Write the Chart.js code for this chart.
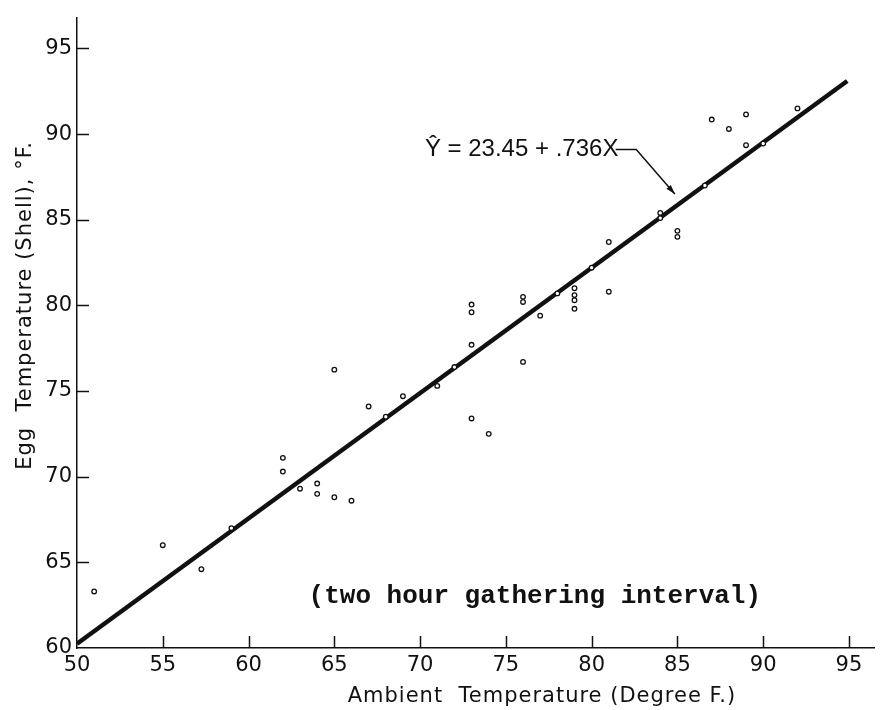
<!DOCTYPE html>
<html>
<head>
<meta charset="utf-8">
<title>Egg temperature vs ambient temperature</title>
<script src="https://cdn.jsdelivr.net/npm/chart.js@4.4.0/dist/chart.umd.min.js"></script>
<style>
  html, body { margin: 0; padding: 0; background: #fff; overflow: hidden; }
  canvas { display: block; }
</style>
</head>
<body>
<canvas id="chart" width="880" height="710"></canvas>
<script>
// ==================== DATA ====================
const ambientTemp = [51, 55, 57.25, 59, 62, 62, 63, 64, 64, 65, 66, 65, 67, 68, 69, 71, 72, 73, 73, 74,
                     76, 73, 73, 76, 76, 77, 78, 79, 79, 79, 79, 80, 81, 81, 84, 84, 85, 85, 86.6,
                     87, 88, 89, 89, 90, 92];
const eggTemp     = [63.3, 66, 64.6, 67, 71.1, 70.3, 69.3, 69.6, 69.0, 68.8, 68.6, 76.25, 74.1, 73.5, 74.7, 75.3, 76.4, 77.7, 73.4, 72.5,
                     76.7, 80.05, 79.6, 80.5, 80.2, 79.4, 80.7, 81.0, 80.6, 80.3, 79.8, 82.2, 83.7, 80.8, 85.1, 85.4, 84.35, 84.0, 87.0,
                     90.85, 90.3, 91.15, 89.35, 89.45, 91.5];

// fitted line end points
const fitX = [50, 94.9];
const fitY = [60.25, 93.1];

const xTickValues = [50, 55, 60, 65, 70, 75, 80, 85, 90, 95];
const yTickValues = [60, 65, 70, 75, 80, 85, 90, 95];

const xTitle = 'Ambient  Temperature (Degree F.)';
const yTitle = 'Egg  Temperature (Shell), °F.';
const equationText = 'Ŷ = 23.45 + .736X';
const noteText = '(two hour gathering interval)';

// ==================== CONFIG ====================
const INK = '#111';

// ==================== EXTRA DRAWING ====================
const paperMarks = {
    id: 'paperMarks',
    afterDraw(chart) {
        const { ctx, chartArea, scales: { x, y } } = chart;
        ctx.save();
        ctx.strokeStyle = INK;
        ctx.fillStyle = INK;

        // inward tick marks
        ctx.lineWidth = 1.5;
        ctx.beginPath();
        xTickValues.forEach(v => {
            if (v === x.min) return;
            const px = Math.round(x.getPixelForValue(v)) + 0.5;
            ctx.moveTo(px, chartArea.bottom);
            ctx.lineTo(px, chartArea.bottom - 12);
        });
        yTickValues.forEach(v => {
            if (v === y.min) return;
            const py = Math.round(y.getPixelForValue(v)) + 0.5;
            ctx.moveTo(chartArea.left, py);
            ctx.lineTo(chartArea.left + 12, py);
        });
        ctx.stroke();

        // equation + leader arrow
        ctx.font = '24px "Liberation Sans"';
        ctx.textAlign = 'left';
        ctx.textBaseline = 'alphabetic';
        ctx.fillText(equationText, x.getPixelForValue(70.28), y.getPixelForValue(88.7));

        const path = [[81.4, 89.1], [82.6, 89.1], [84.85, 86.5]].map(p => [x.getPixelForValue(p[0]), y.getPixelForValue(p[1])]);
        ctx.lineWidth = 1.5;
        ctx.beginPath();
        ctx.moveTo(path[0][0], path[0][1]);
        path.slice(1).forEach(p => ctx.lineTo(p[0], p[1]));
        ctx.stroke();
        const [tx, ty] = path[2];
        const ang = Math.atan2(ty - path[1][1], tx - path[1][0]);
        ctx.beginPath();
        ctx.moveTo(tx, ty);
        ctx.lineTo(tx - 10 * Math.cos(ang - 0.3), ty - 10 * Math.sin(ang - 0.3));
        ctx.lineTo(tx - 10 * Math.cos(ang + 0.3), ty - 10 * Math.sin(ang + 0.3));
        ctx.closePath();
        ctx.fill();

        // typewritten note
        ctx.font = 'bold 26px "Liberation Mono"';
        ctx.textBaseline = 'middle';
        ctx.fillText(noteText, x.getPixelForValue(63.5), y.getPixelForValue(62.98));

        // axis titles
        ctx.font = '21px "DejaVu Sans"';
        ctx.textAlign = 'center';
        ctx.letterSpacing = '1px';
        ctx.fillText(xTitle, x.getPixelForValue(77.1), chartArea.bottom + 49);

        ctx.translate(26, y.getPixelForValue(80));
        ctx.rotate(-Math.PI / 2);
        ctx.fillText(yTitle, 0, 0);

        ctx.restore();
    }
};

// ==================== CHART ====================
new Chart(document.getElementById('chart'), {
    type: 'scatter',
    data: {
        datasets: [{
            data: ambientTemp.map((v, i) => ({ x: v, y: eggTemp[i] })),
            pointRadius: 2.3,
            pointBorderWidth: 1.3,
            pointBorderColor: INK,
            pointBackgroundColor: '#fff',
            showLine: false
        }, {
            data: fitX.map((v, i) => ({ x: v, y: fitY[i] })),
            showLine: true,
            borderColor: INK,
            borderWidth: 4.5,
            pointRadius: 0,
            borderCapStyle: 'butt'
        }]
    },
    options: {
        responsive: false,
        animation: false,
        devicePixelRatio: 1,
        layout: { padding: { top: 12, right: 0, left: 0, bottom: 0 } },
        plugins: {
            legend: { display: false },
            tooltip: { enabled: false }
        },
        scales: {
            x: {
                type: 'linear',
                min: 50,
                max: 96.5,
                afterBuildTicks: s => { s.ticks = xTickValues.map(v => ({ value: v })); },
                afterFit: s => { s.height = 62; },
                grid: { display: false, drawTicks: false },
                border: { display: true, color: INK, width: 1.5 },
                ticks: {
                    color: INK,
                    font: { family: 'DejaVu Sans', size: 21 },
                    padding: 5,
                    maxRotation: 0,
                    autoSkip: false
                }
            },
            y: {
                type: 'linear',
                min: 60,
                max: 96.8,
                afterBuildTicks: s => { s.ticks = yTickValues.map(v => ({ value: v })); },
                afterFit: s => { s.width = 77; },
                grid: { display: false, drawTicks: false },
                border: { display: true, color: INK, width: 1.5 },
                ticks: {
                    color: INK,
                    font: { family: 'DejaVu Sans', size: 21 },
                    padding: 5,
                    autoSkip: false
                }
            }
        }
    },
    plugins: [paperMarks]
});
</script>
</body>
</html>
